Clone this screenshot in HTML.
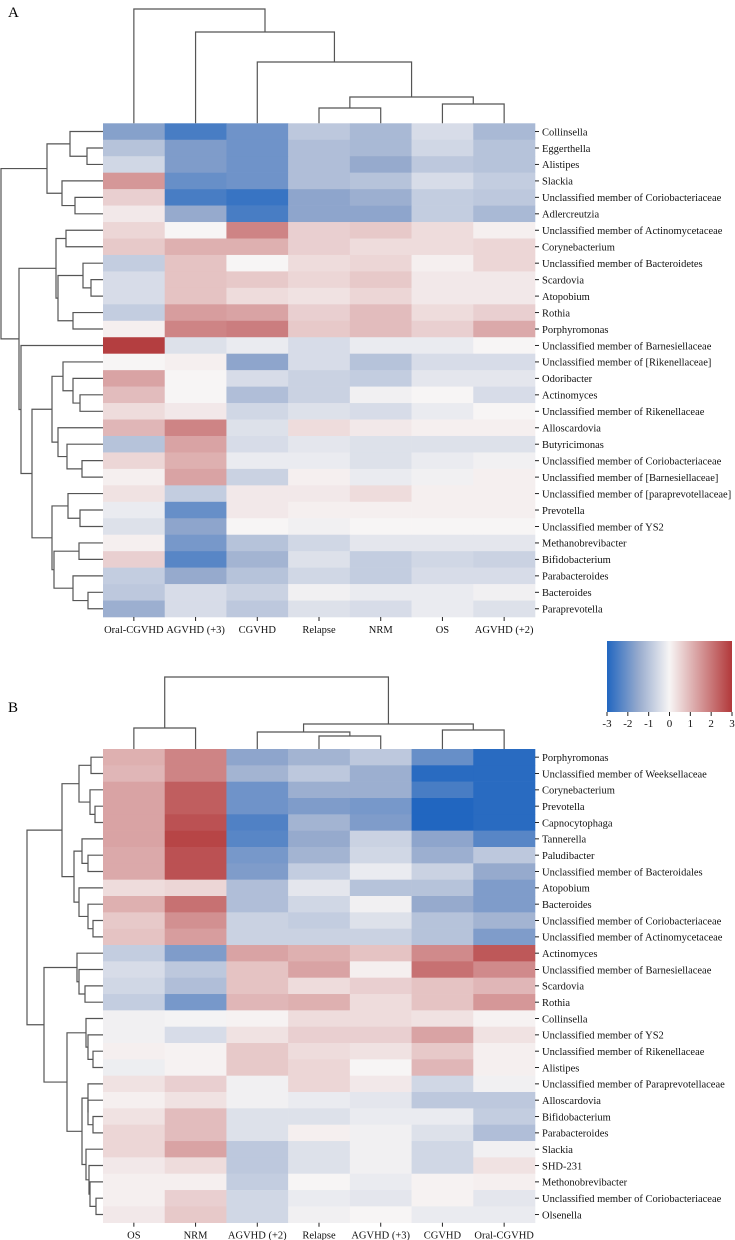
<!DOCTYPE html>
<html><head><meta charset="utf-8"><title>Heatmaps</title>
<style>html,body{margin:0;padding:0;background:#fff;}svg{display:block;font-family:"Liberation Serif",serif;}</style>
</head><body>
<svg id="chart" width="735" height="1240" viewBox="0 0 735 1240" xmlns="http://www.w3.org/2000/svg">
<defs><linearGradient id="cbar" x1="0" x2="1" y1="0" y2="0">
<stop offset="0" stop-color="rgb(33,102,192)"/><stop offset="0.25" stop-color="rgb(150,170,205)"/><stop offset="0.5" stop-color="rgb(247,245,245)"/><stop offset="1" stop-color="rgb(178,56,58)"/></linearGradient></defs>
<text x="8" y="17" font-size="15">A</text>
<text x="8" y="712" font-size="15">B</text>
<g id="legend">
<rect x="607" y="641" width="125" height="71" fill="url(#cbar)"/>
</g>
</svg>
<script>
const colsA = ["Oral-CGVHD","AGVHD (+3)","CGVHD","Relapse","NRM","OS","AGVHD (+2)"];
const rowsA = ["Collinsella","Eggerthella","Alistipes","Slackia","Unclassified member of Coriobacteriaceae","Adlercreutzia","Unclassified member of Actinomycetaceae","Corynebacterium","Unclassified member of Bacteroidetes","Scardovia","Atopobium","Rothia","Porphyromonas","Unclassified member of Barnesiellaceae","Unclassified member of [Rikenellaceae]","Odoribacter","Actinomyces","Unclassified member of Rikenellaceae","Alloscardovia","Butyricimonas","Unclassified member of Coriobacteriaceae","Unclassified member of [Barnesiellaceae]","Unclassified member of [paraprevotellaceae]","Prevotella","Unclassified member of YS2","Methanobrevibacter","Bifidobacterium","Parabacteroides","Bacteroides","Paraprevotella"];
const valuesA = [
[-1.7,-2.5,-2.0,-0.9,-1.2,-0.5,-1.2],
[-1.0,-1.8,-2.0,-1.1,-1.2,-0.6,-1.0],
[-0.6,-1.8,-2.0,-1.1,-1.5,-0.9,-1.0],
[1.5,-2.1,-2.0,-1.1,-1.0,-0.5,-0.8],
[0.6,-2.5,-2.7,-1.6,-1.4,-0.8,-0.9],
[0.2,-1.5,-2.5,-1.6,-1.6,-0.8,-1.2],
[0.5,0.0,1.8,0.6,0.7,0.4,0.1],
[0.7,1.1,1.1,0.6,0.4,0.4,0.5],
[-0.8,0.8,0.0,0.4,0.5,0.1,0.5],
[-0.5,0.8,0.7,0.5,0.7,0.2,0.2],
[-0.5,0.8,0.4,0.3,0.5,0.2,0.2],
[-0.8,1.4,1.3,0.6,0.9,0.4,0.6],
[0.1,1.8,1.9,0.7,0.9,0.6,1.2],
[2.9,-0.4,-0.2,-0.5,-0.2,-0.2,0.0],
[0.0,0.1,-1.6,-0.5,-1.0,-0.5,-0.5],
[1.3,0.0,-0.5,-0.7,-0.8,-0.3,-0.3],
[0.9,0.0,-1.1,-0.7,-0.1,0.0,-0.5],
[0.4,0.2,-0.6,-0.4,-0.5,-0.2,0.0],
[1.0,1.8,-0.4,0.4,0.2,0.1,0.1],
[-1.0,1.3,-0.5,-0.3,-0.4,-0.4,-0.4],
[0.5,1.1,-0.2,-0.2,-0.4,-0.2,-0.1],
[0.1,1.3,-0.7,0.1,-0.2,-0.1,0.1],
[0.3,-0.8,0.2,0.2,0.4,0.1,0.1],
[-0.2,-2.1,0.2,0.1,0.1,0.1,0.1],
[-0.4,-1.6,0.0,-0.1,0.0,0.0,0.0],
[0.1,-1.9,-1.0,-0.6,-0.3,-0.3,-0.3],
[0.6,-2.3,-1.3,-0.4,-0.8,-0.6,-0.7],
[-0.8,-1.5,-1.0,-0.6,-0.8,-0.5,-0.5],
[-0.9,-0.5,-0.7,-0.1,-0.2,-0.2,-0.1],
[-1.4,-0.5,-0.9,-0.4,-0.5,-0.2,-0.4]];
const colsB = ["OS","NRM","AGVHD (+2)","Relapse","AGVHD (+3)","CGVHD","Oral-CGVHD"];
const rowsB = ["Porphyromonas","Unclassified member of Weeksellaceae","Corynebacterium","Prevotella","Capnocytophaga","Tannerella","Paludibacter","Unclassified member of Bacteroidales","Atopobium","Bacteroides","Unclassified member of Coriobacteriaceae","Unclassified member of Actinomycetaceae","Actinomyces","Unclassified member of Barnesiellaceae","Scardovia","Rothia","Collinsella","Unclassified member of YS2","Unclassified member of Rikenellaceae","Alistipes","Unclassified member of Paraprevotellaceae","Alloscardovia","Bifidobacterium","Parabacteroides","Slackia","SHD-231","Methonobrevibacter","Unclassified member of Coriobacteriaceae","Olsenella"];
const valuesB = [
[1.1,1.8,-1.6,-1.3,-0.9,-2.1,-2.9],
[1.0,1.8,-1.3,-0.9,-1.4,-2.9,-2.9],
[1.3,2.4,-2.0,-1.4,-1.4,-2.5,-2.9],
[1.3,2.4,-2.0,-1.8,-1.9,-3.0,-2.9],
[1.3,2.6,-2.4,-1.3,-1.8,-3.0,-2.9],
[1.3,2.8,-2.3,-1.5,-0.7,-1.6,-2.3],
[1.2,2.6,-1.9,-1.3,-0.6,-1.4,-0.9],
[1.2,2.6,-1.8,-0.8,-0.2,-0.7,-1.5],
[0.4,0.5,-1.1,-0.3,-1.0,-1.0,-1.8],
[1.1,2.1,-1.1,-0.6,-0.1,-1.5,-1.8],
[0.7,1.6,-0.7,-0.8,-0.4,-1.0,-1.3],
[0.8,1.4,-0.7,-0.7,-0.7,-1.0,-1.8],
[-0.8,-1.8,1.3,1.1,0.8,1.7,2.5],
[-0.5,-0.9,0.8,1.3,0.1,2.1,1.7],
[-0.6,-1.1,0.8,0.4,0.6,0.8,1.0],
[-0.8,-1.9,1.0,1.1,0.4,0.8,1.5],
[-0.1,-0.05,0.05,0.4,0.4,0.3,0.05],
[-0.1,-0.5,0.3,0.6,0.6,1.3,0.3],
[0.1,0.05,0.7,0.4,0.3,0.7,0.1],
[-0.15,0.05,0.7,0.5,0.0,1.0,0.1],
[0.3,0.6,-0.1,0.5,0.2,-0.6,-0.1],
[0.1,0.3,-0.1,-0.2,-0.3,-0.9,-0.9],
[0.3,0.9,-0.4,-0.4,-0.2,-0.2,-0.8],
[0.5,0.9,-0.4,0.1,-0.1,-0.4,-1.1],
[0.5,1.3,-0.9,-0.4,-0.1,-0.6,-0.1],
[0.2,0.4,-0.9,-0.4,-0.1,-0.6,0.3],
[0.1,0.1,-0.8,0.0,-0.2,0.05,0.1],
[0.1,0.6,-0.6,-0.2,-0.3,0.05,-0.3],
[0.2,0.7,-0.6,-0.1,0.0,-0.2,-0.2]];
const legendTicks = [-3,-2,-1,0,1,2,3];
const colTreeA = [9,0,[32,1,[62,2,[97,[108,3,4],[104,5,6]]]]];
const rowTreeA = [1,[47,[70,0,[87,1,2]],[62,3,[75,4,5]]],[19,[56,[66,6,7],[58,[83,8,[91,9,10]],[73,11,12]]],[21,13,[32,[52,[63,14,[73,15,[80,16,17]]],[58,18,[67,19,[82,20,21]]]],[52,[68,22,[80,23,24]],[54,[79,25,26],[73,27,[88,28,29]]]]]]]];
const colTreeB = [677,[728,0,1],[724,[732,2,[736,3,4]],[730,5,6]]];
const rowTreeB = [27,[62,[79,[91,0,1],[90,2,[95,3,4]]],[74,[82,5,[88,6,7]],[79,8,[88,9,[93,10,11]]]]],[44,[77,12,[79,13,[85,14,15]]],[67,[86,16,[88,17,[93,18,19]]],[82,[88,20,[88,21,[93,22,23]]],[86,24,[89,25,[90,26,[96,27,28]]]]]]]];

const NS = "http://www.w3.org/2000/svg";
const svg = document.getElementById('chart');
const CB=[33,102,192], CBM=[150,170,205], CM=[247,245,245], C1=[178,56,58];
function lerp(a,b,t){return a.map((v,i)=>Math.round(v+(b[i]-v)*t));}
function color(v){v=Math.max(-3,Math.min(3,v));let c;
 if(v>=0) c=lerp(CM,C1,v/3);
 else if(v>=-1.5) c=lerp(CM,CBM,-v/1.5);
 else c=lerp(CBM,CB,(-v-1.5)/1.5);
 return 'rgb('+c.join(',')+')';}
function mk(tag,attrs,parent){const el=document.createElementNS(NS,tag);for(const k in attrs)el.setAttribute(k,attrs[k]);(parent||svg).appendChild(el);return el;}

function panel(id,cols,rows,vals,top,bottom,colTree,rowTree){
  const g=mk('g',{});
  
  
  const x0=103,x1=535,cw=(x1-x0)/cols.length,rh=(bottom-top)/rows.length;
  const xc=j=>x0+cw*(j+0.5), yc=i=>top+rh*(i+0.5);
  vals.forEach((row,i)=>row.forEach((v,j)=>{
    const r=mk('rect',{x:(x0+cw*j).toFixed(2),y:(top+rh*i).toFixed(2),width:(cw+0.3).toFixed(2),height:(rh+0.3).toFixed(2),fill:color(v)},g);
    
    
  }));
  rows.forEach((name,i)=>{
    mk('line',{x1:535,x2:539,y1:yc(i),y2:yc(i),stroke:'#222','stroke-width':1},g);
    const t=mk('text',{x:542,y:yc(i)+3.8,'font-size':10.5,fill:'#111'},g);
    t.textContent=name;
    
    
  });
  cols.forEach((name,j)=>{
    mk('line',{x1:xc(j),x2:xc(j),y1:bottom,y2:bottom+4,stroke:'#222','stroke-width':1},g);
    const t=mk('text',{x:xc(j),y:bottom+16,'font-size':10.5,'text-anchor':'middle',fill:'#111'},g);
    t.textContent=name;
    
    
  });
  function colD(n){ if(typeof n==='number') return {p:xc(n),h:top};
    const a=colD(n[1]),b=colD(n[2]),h=n[0];
    const p=mk('path',{d:`M${a.p},${a.h}V${h}H${b.p}V${b.h}`,fill:'none',stroke:'#555','stroke-width':1.2},g);
    
    
    return {p:(a.p+b.p)/2,h:h};}
  colD(colTree);
  function rowD(n){ if(typeof n==='number') return {p:yc(n),h:x0};
    const a=rowD(n[1]),b=rowD(n[2]),h=n[0];
    const p=mk('path',{d:`M${a.h},${a.p}H${h}V${b.p}H${b.h}`,fill:'none',stroke:'#555','stroke-width':1.2},g);
    
    
    return {p:(a.p+b.p)/2,h:h};}
  rowD(rowTree);
}
panel('panel-a',colsA,rowsA,valuesA,123.3,617,colTreeA,rowTreeA);
panel('panel-b',colsB,rowsB,valuesB,749,1222.7,colTreeB,rowTreeB);

const lg=document.getElementById('legend');
legendTicks.forEach(v=>{
  const x=607+(v+3)/6*125;
  mk('line',{x1:x,x2:x,y1:712,y2:716,stroke:'#222','stroke-width':1},lg);
  const t=mk('text',{x:x,y:727,'font-size':11,'text-anchor':'middle',fill:'#111'},lg);
  t.textContent=String(v);
  
  
});
</script>
</body></html>
